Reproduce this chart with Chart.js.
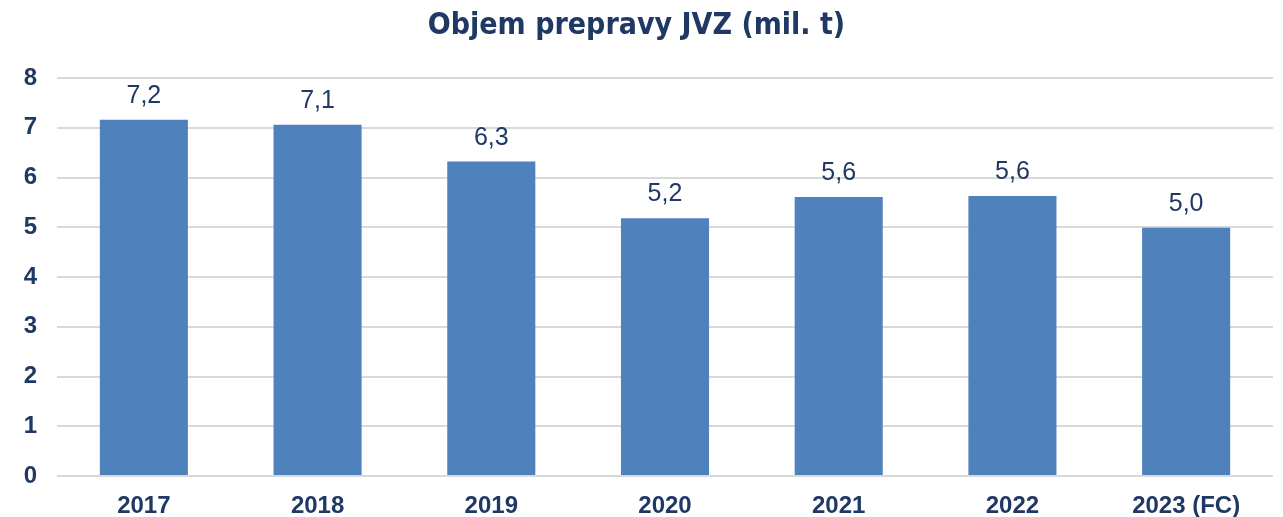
<!DOCTYPE html>
<html>
<head>
<meta charset="utf-8">
<script src="https://cdn.jsdelivr.net/npm/chart.js@4"></script>
<style>
  html, body { margin: 0; padding: 0; background: #fff; }
  #wrap { width: 1283px; height: 517px; }
</style>
</head>
<body>
<div id="wrap"><canvas id="objemChart" width="1283" height="517"></canvas></div>
<script>
// data
const years = ['2017', '2018', '2019', '2020', '2021', '2022', '2023 (FC)'];
const volumes = [7.16, 7.06, 6.32, 5.18, 5.61, 5.63, 4.99];
const yTicks = [0, 1, 2, 3, 4, 5, 6, 7, 8];

const navy = '#1f3864';
const barBlue = '#4f81bd';

// draws the value above each bar, e.g. "7,2"
const valueLabels = {
  id: 'valueLabels',
  afterDatasetsDraw(chart) {
    const ctx = chart.ctx;
    const meta = chart.getDatasetMeta(0);
    ctx.save();
    ctx.font = '25px "Liberation Sans", Arial, sans-serif';
    ctx.fillStyle = navy;
    ctx.textAlign = 'center';
    ctx.textBaseline = 'alphabetic';
    meta.data.forEach((bar, i) => {
      const txt = volumes[i].toFixed(1).replace('.', ',');
      ctx.fillText(txt, bar.x, bar.y - 17);
    });
    ctx.restore();
  }
};

const chart = new Chart(document.getElementById('objemChart'), {
  type: 'bar',
  data: {
    labels: years,
    datasets: [{
      data: volumes,
      backgroundColor: barBlue,
      borderWidth: 0,
      categoryPercentage: 1,
      barPercentage: 0.507
    }]
  },
  options: {
    responsive: false,
    animation: false,
    layout: { padding: { left: 0, right: 10, top: 0, bottom: 0 } },
    plugins: {
      legend: { display: false },
      tooltip: { enabled: false },
      title: {
        display: true,
        text: 'Objem prepravy JVZ (mil. t)',
        color: navy,
        font: { family: '"DejaVu Sans Condensed", "DejaVu Sans", sans-serif', size: 30, weight: 'bold' },
        padding: { top: 8, bottom: 34 }
      }
    },
    scales: {
      x: {
        afterFit(axis) { axis.height = 41; },
        grid: { display: false },
        border: { display: false },
        ticks: {
          color: navy,
          padding: 8,
          font: { family: '"Liberation Sans", Arial, sans-serif', size: 24, weight: 'bold' }
        }
      },
      y: {
        min: 0,
        max: 8,
        afterBuildTicks(axis) {
          axis.ticks = yTicks.map(v => ({ value: v }));
        },
        afterFit(axis) { axis.width = 57; },
        grid: { color: '#d9d9d9', lineWidth: 2, drawTicks: false },
        border: { display: false },
        ticks: {
          color: navy,
          padding: 20,
          font: { family: '"Liberation Sans", Arial, sans-serif', size: 24, weight: 'bold' }
        }
      }
    }
  },
  plugins: [valueLabels]
});
</script>
</body>
</html>
